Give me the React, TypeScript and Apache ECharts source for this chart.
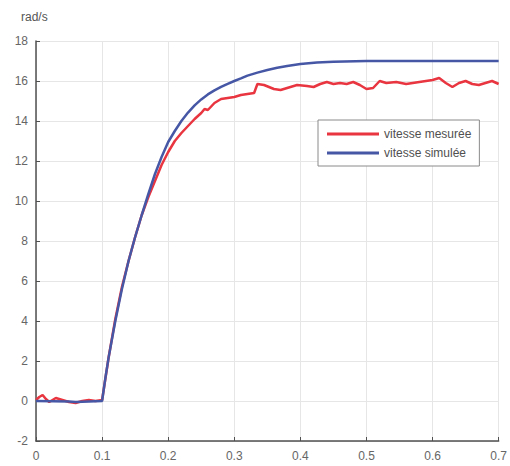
import React, { useEffect, useRef } from "react";
import * as echarts from "echarts";

const xTicks = [0, 0.1, 0.2, 0.3, 0.4, 0.5, 0.6, 0.7];
const yTicks = [-2, 0, 2, 4, 6, 8, 10, 12, 14, 16, 18];
const seriesNames = ["vitesse mesurée", "vitesse simulée"];
const yUnit = "rad/s";

const measuredT = [
  0, 0.005, 0.01, 0.015, 0.02, 0.03, 0.04, 0.05, 0.06, 0.07, 0.08, 0.09, 0.1,
  0.11, 0.12, 0.13, 0.14, 0.15, 0.16, 0.17, 0.18, 0.19, 0.2, 0.21, 0.22, 0.23,
  0.24, 0.25, 0.255, 0.26, 0.27, 0.28, 0.29, 0.3, 0.31, 0.32, 0.33, 0.335,
  0.345, 0.36, 0.37, 0.38, 0.395, 0.41, 0.42, 0.43, 0.44, 0.45, 0.46, 0.47,
  0.48, 0.49, 0.5, 0.51, 0.52, 0.53, 0.545, 0.56, 0.57, 0.58, 0.59, 0.6, 0.61,
  0.62, 0.63, 0.64, 0.65, 0.66, 0.67, 0.68, 0.69, 0.7,
];
const measuredV = [
  0.05, 0.2, 0.3, 0.1, -0.05, 0.15, 0.05, -0.05, -0.1, 0.0, 0.05, 0.0, 0.05,
  2.2, 4.1, 5.7, 7.0, 8.2, 9.3, 10.2, 11.0, 11.8, 12.45, 13.0, 13.4, 13.75,
  14.1, 14.4, 14.6, 14.55, 14.9, 15.1, 15.15, 15.2, 15.3, 15.35, 15.4, 15.85,
  15.8, 15.6, 15.55, 15.65, 15.8, 15.75, 15.7, 15.85, 15.95, 15.85, 15.9,
  15.85, 15.95, 15.8, 15.6, 15.65, 16.0, 15.9, 15.95, 15.85, 15.9, 15.95, 16.0,
  16.05, 16.15, 15.9, 15.7, 15.9, 16.0, 15.85, 15.8, 15.9, 16.0, 15.85,
];

const simulatedT = [
  0, 0.05, 0.06, 0.1, 0.105, 0.11, 0.12, 0.13, 0.14, 0.15, 0.16, 0.17, 0.18,
  0.19, 0.2, 0.21, 0.22, 0.23, 0.24, 0.25, 0.26, 0.27, 0.28, 0.29, 0.3, 0.31,
  0.32, 0.335, 0.35, 0.365, 0.38, 0.4, 0.425, 0.45, 0.5, 0.6, 0.7,
];
const simulatedV = [
  0, -0.03, -0.05, 0, 1.15, 2.2, 4.0, 5.6, 7.0, 8.2, 9.3, 10.35, 11.35, 12.2,
  12.95, 13.5, 14.0, 14.42, 14.78, 15.08, 15.33, 15.53, 15.71, 15.86, 16.0,
  16.13, 16.27, 16.42, 16.55, 16.66, 16.75, 16.85, 16.92, 16.96, 17.0, 17.0,
  17.0,
];

const FONT = "'Liberation Sans', Arial, sans-serif";

export default function App() {
  const ref = useRef<HTMLDivElement>(null);
  useEffect(() => {
    if (!ref.current) return;
    const chart = echarts.init(ref.current, undefined, { renderer: "svg" });
    const measured = measuredT.map((t, i) => [t, measuredV[i]]);
    const simulated = simulatedT.map((t, i) => [t, simulatedV[i]]);
    chart.setOption({
      animation: false,
      backgroundColor: "#ffffff",
      textStyle: { fontFamily: FONT },
      grid: { left: 36, right: 7, top: 41, bottom: 25, containLabel: false },
      graphic: [
        {
          type: "text",
          left: 21,
          top: 11,
          style: { text: yUnit, fontSize: 12, fill: "#555", fontFamily: FONT },
        },
      ],
      legend: {
        orient: "vertical",
        left: 318,
        top: 120,
        padding: [7, 8, 6, 9],
        itemGap: 5,
        itemWidth: 52,
        itemHeight: 3,
        icon: "rect",
        backgroundColor: "#ffffff",
        borderColor: "#8a8a8a",
        borderWidth: 1,
        borderRadius: 0,
        textStyle: { fontSize: 12, color: "#505050", fontFamily: FONT, lineHeight: 14 },
        data: seriesNames,
      },
      xAxis: {
        type: "value",
        min: xTicks[0],
        max: xTicks[xTicks.length - 1],
        interval: 0.1,
        axisLine: { show: true, onZero: false, lineStyle: { color: "#505050", width: 1.5 } },
        axisTick: { show: true, inside: true, length: 4, lineStyle: { color: "#505050" } },
        axisLabel: {
          margin: 9,
          fontSize: 12,
          color: "#666",
          formatter: (v: number) => String(+v.toFixed(1)),
        },
        splitLine: { show: true, lineStyle: { color: "#e6e6e6", width: 1 } },
      },
      yAxis: {
        type: "value",
        min: yTicks[0],
        max: yTicks[yTicks.length - 1],
        interval: 2,
        axisLine: { show: true, onZero: false, lineStyle: { color: "#505050", width: 1.5 } },
        axisTick: { show: true, inside: true, length: 4, lineStyle: { color: "#505050" } },
        axisLabel: { margin: 8, fontSize: 12, color: "#666" },
        splitLine: { show: true, lineStyle: { color: "#e6e6e6", width: 1 } },
      },
      series: [
        {
          name: seriesNames[0],
          type: "line",
          data: measured,
          symbol: "none",
          smooth: false,
          lineStyle: { color: "#e8353f", width: 2.5 },
          itemStyle: { color: "#e8353f" },
          z: 2,
        },
        {
          name: seriesNames[1],
          type: "line",
          data: simulated,
          symbol: "none",
          smooth: false,
          lineStyle: { color: "#4657a6", width: 2.5 },
          itemStyle: { color: "#4657a6" },
          z: 3,
        },
      ],
    });
    return () => chart.dispose();
  }, []);
  return <div ref={ref} style={{ width: 510, height: 466, position: "absolute", left: 0, top: 0 }} />;
}
